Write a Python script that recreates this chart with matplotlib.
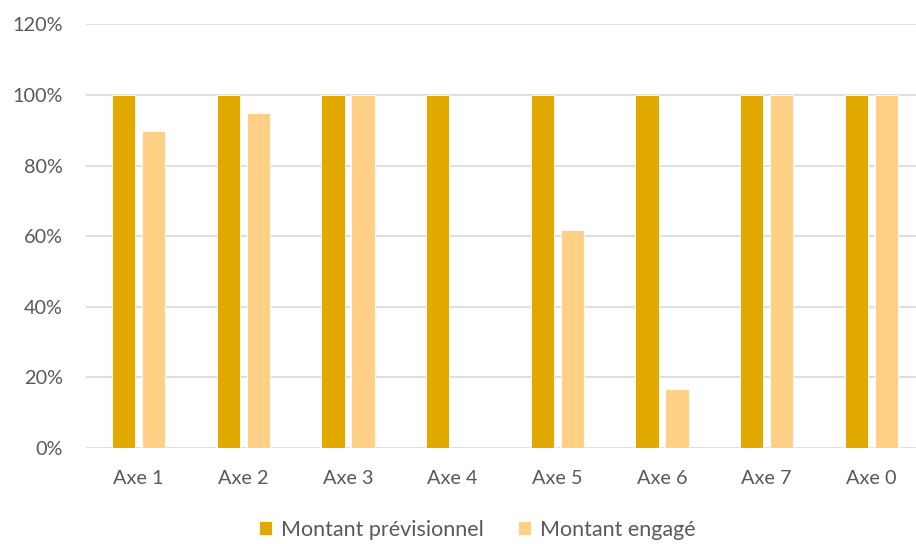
import matplotlib.pyplot as plt
import numpy as np
from matplotlib.ticker import FuncFormatter

categories = ["Axe 1", "Axe 2", "Axe 3", "Axe 4", "Axe 5", "Axe 6", "Axe 7", "Axe 0"]
previsionnel = [1.00, 1.00, 1.00, 1.00, 1.00, 1.00, 1.00, 1.00]
engage = [0.897, 0.949, 1.00, 0.0, 0.618, 0.166, 1.00, 1.00]
yticks = [0, 0.2, 0.4, 0.6, 0.8, 1.0, 1.2]

plt.rcParams['font.family'] = ['Lato', 'DejaVu Sans']
text_color = '#595959'

fig = plt.figure(figsize=(9.16, 5.44), dpi=100)
# plot area runs slightly past the right edge of the canvas
ax = fig.add_axes([0.0941, 0.177, 0.9144, 0.778])

x = np.arange(len(categories))
w = 0.222
ax.bar(x - 0.143, previsionnel, w, color='#E2AA00', edgecolor='white', linewidth=0.6,
       label='Montant prévisionnel', zorder=3)
ax.bar(x + 0.143, engage, w, color='#FFD085', edgecolor='white', linewidth=0.6,
       label='Montant engagé', zorder=3)

ax.set_xlim(-0.5, len(categories) - 0.5)
ax.set_ylim(0, 1.2)
ax.set_yticks(yticks)
ax.yaxis.set_major_formatter(FuncFormatter(lambda v, p: f"{v*100:.0f}%"))
ax.set_xticks(x)
ax.set_xticklabels(categories)
ax.grid(axis='y', color='#D9D9D9', linewidth=1.2, zorder=0)
for s in ax.spines.values():
    s.set_visible(False)
ax.tick_params(axis='both', length=0, labelsize=14.3, colors=text_color)
ax.tick_params(axis='x', pad=16)
ax.tick_params(axis='y', pad=17)

fig.legend(loc='lower center', bbox_to_anchor=(0.521, -0.028), ncol=2, frameon=False,
           fontsize=15.5, labelcolor=text_color, handlelength=0.6, handleheight=0.6,
           handletextpad=0.4, columnspacing=1.6)

fig.savefig('out.png', dpi=100)
